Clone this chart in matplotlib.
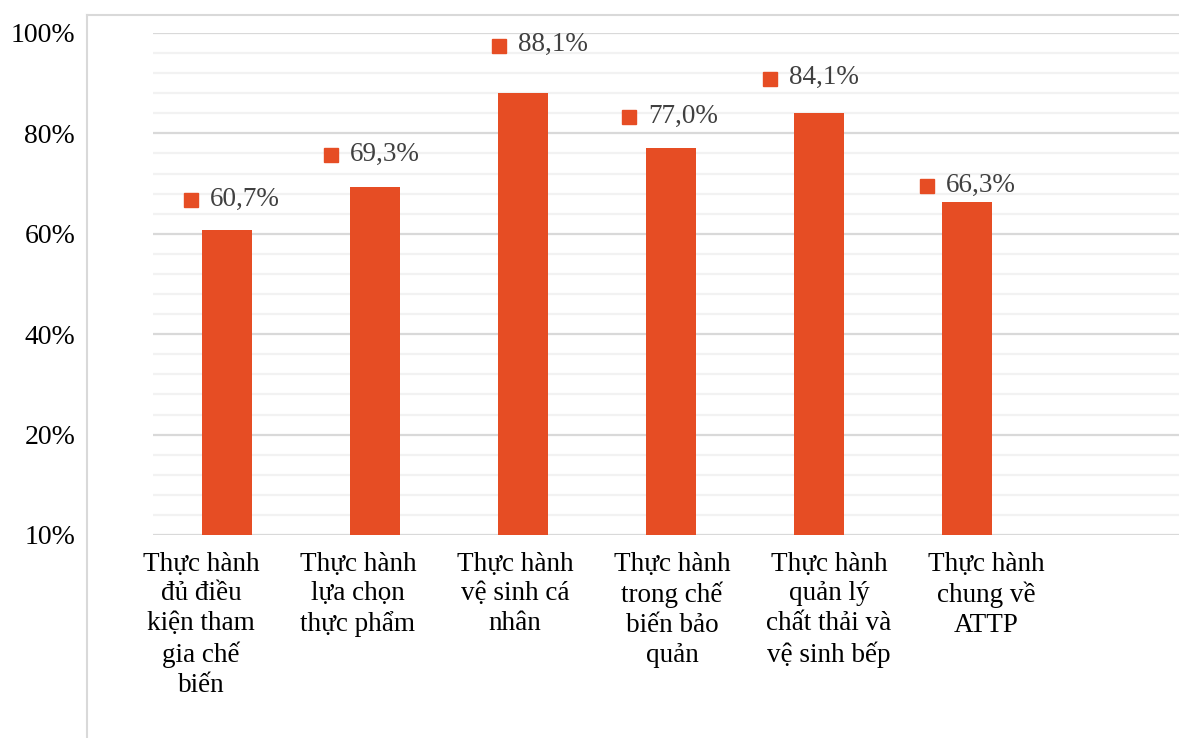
import numpy as np
import matplotlib.pyplot as plt
from matplotlib.lines import Line2D
from matplotlib.transforms import offset_copy

# Data
categories = [
    "Thực hành\nđủ điều\nkiện tham\ngia chế\nbiến",
    "Thực hành\nlựa chọn\nthực phẩm",
    "Thực hành\nvệ sinh cá\nnhân",
    "Thực hành\ntrong chế\nbiến bảo\nquản",
    "Thực hành\nquản lý\nchất thải và\nvệ sinh bếp",
    "Thực hành\nchung về\nATTP",
]
values = [60.7, 69.3, 88.1, 77.0, 84.1, 66.3]
value_labels = ["60,7%", "69,3%", "88,1%", "77,0%", "84,1%", "66,3%"]
ytick_values = [0, 20, 40, 60, 80, 100]
ytick_labels = ["10%", "20%", "40%", "60%", "80%", "100%"]

# Layout: label offsets (pixels) of the marker square from bar centre / bar top
label_dx = [-36, -44, -24, -42, -49, -40]
label_dy = [30, 32, 47, 31, 34, 16]

bar_color = "#E64D24"
plt.rcParams['font.family'] = ['Liberation Serif', 'DejaVu Serif']

fig = plt.figure(figsize=(11.79, 7.38), dpi=100)
ax = fig.add_axes([153 / 1179, 1 - 535 / 738, 1036 / 1179, 502 / 738])

x = np.arange(len(values))
ax.bar(x, values, width=0.338, color=bar_color, zorder=3)

ax.set_xlim(-0.5, 6.5)
ax.set_ylim(0, 100)

# Gridlines
ax.set_yticks(ytick_values)
ax.set_yticks(np.arange(0, 101, 4), minor=True)
ax.grid(axis='y', which='minor', color='#F2F2F2', linewidth=1.6, zorder=0)
ax.grid(axis='y', which='major', color='#D9D9D9', linewidth=1.6, zorder=1)
ax.set_yticklabels(ytick_labels, fontsize=20)
ax.tick_params(axis='y', which='both', length=0, pad=56)

# Category labels (spaced a bit wider than the bars, as in the original)
label_pos = x * 1.061 - 0.176
ax.set_xticks(label_pos)
ax.set_xticklabels(categories, fontsize=19.5, linespacing=1.25)
ax.tick_params(axis='x', length=0, pad=12)

for s in ax.spines.values():
    s.set_visible(False)

# Data labels with square markers
for i, v in enumerate(values):
    tr = offset_copy(ax.transData, fig=fig, x=label_dx[i], y=label_dy[i], units='dots')
    ax.plot([i], [v], marker='s', markersize=10, color=bar_color, transform=tr,
            clip_on=False, zorder=4)
    tr2 = offset_copy(ax.transData, fig=fig, x=label_dx[i] + 19, y=label_dy[i] + 1, units='dots')
    ax.text(i, v, value_labels[i], transform=tr2, ha='left', va='center',
            fontsize=19.5, color='#404040', zorder=4)

# Chart area border (left and top edges)
fig.add_artist(Line2D([87 / 1179, 87 / 1179], [0, 1 - 15 / 738], color='#D9D9D9',
                      linewidth=1.5, transform=fig.transFigure))
fig.add_artist(Line2D([87 / 1179, 1], [1 - 15 / 738, 1 - 15 / 738], color='#D9D9D9',
                      linewidth=1.5, transform=fig.transFigure))

plt.savefig('out.png', dpi=100)
